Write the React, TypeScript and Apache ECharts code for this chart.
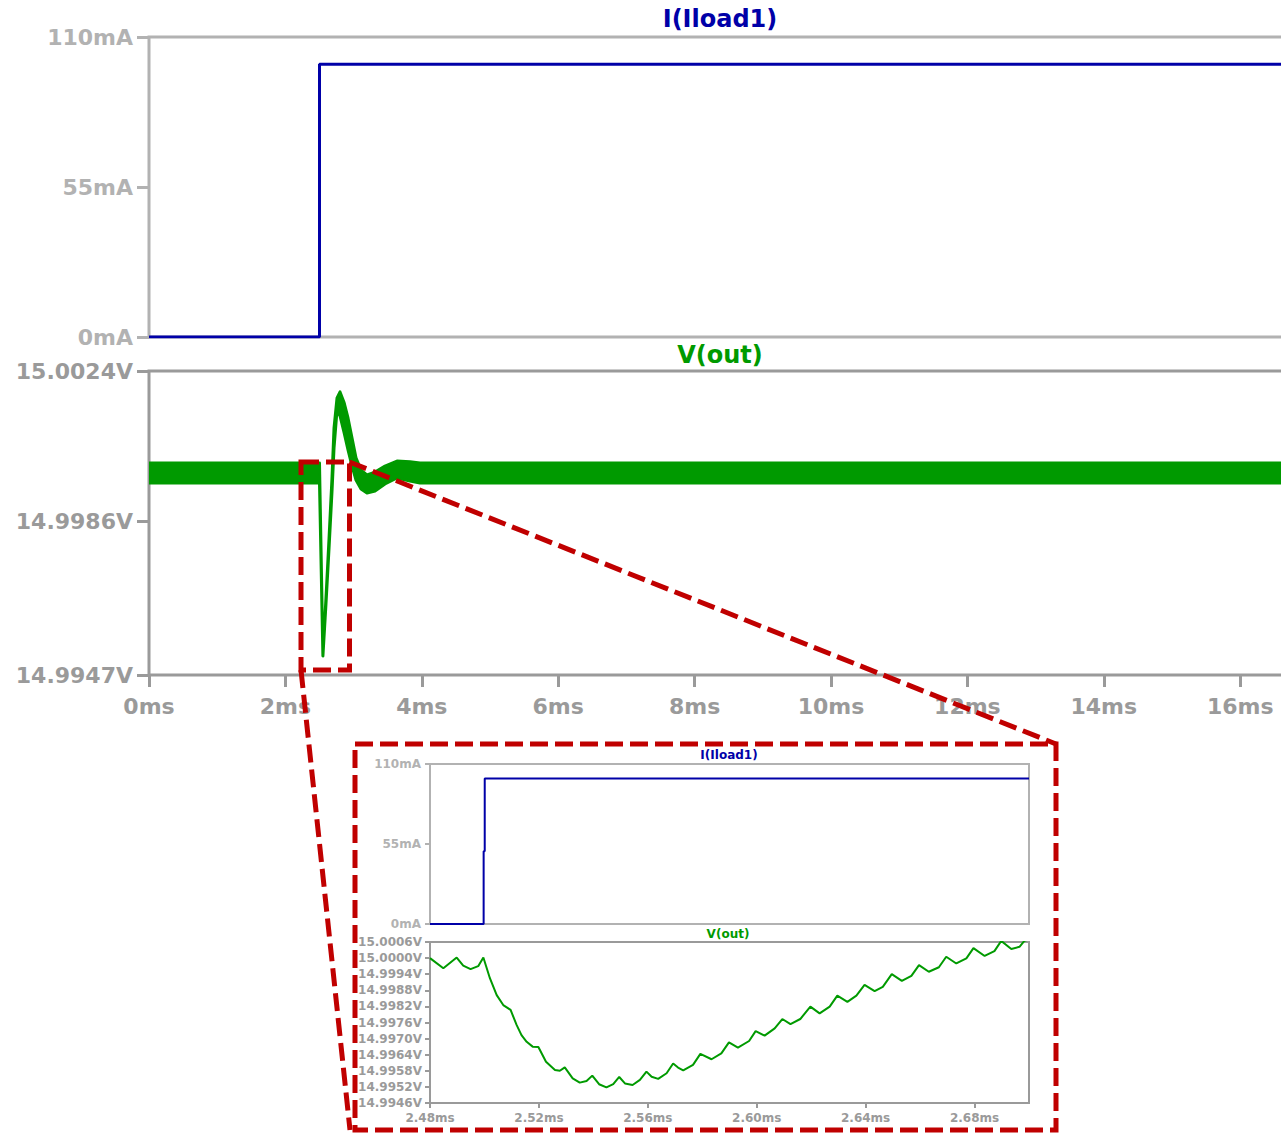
import React, { useEffect, useRef } from "react";
import * as echarts from "echarts";

// ---------- DATA ----------
// Main chart: load current step I(Iload1) [ms, mA]
const mainILoad: [number, number][] = [
  [0, 0],
  [2.5, 0],
  [2.5, 100],
  [17, 100],
];
// Main chart: V(out) ripple envelope [ms, lower V, upper V]
const mainVoutEnvelope: [number, number, number][] = [
  [0.0, 14.99956, 15.00007],
  [2.5, 14.99956, 15.00007],
  [2.55, 14.99518, 14.99523],
  [2.595, 14.9965, 14.99665],
  [2.64, 14.99792, 14.99817],
  [2.683, 14.99934, 14.99969],
  [2.713, 15.00045, 15.00096],
  [2.757, 15.00141, 15.00172],
  [2.801, 15.00126, 15.00187],
  [2.859, 15.00085, 15.00161],
  [2.918, 15.0004, 15.00121],
  [2.977, 14.99999, 15.0007],
  [3.035, 14.99964, 15.0002],
  [3.109, 14.99941, 14.99989],
  [3.196, 14.99931, 14.99977],
  [3.314, 14.99936, 14.99984],
  [3.46, 14.99954, 14.99999],
  [3.636, 14.99969, 15.00012],
  [3.827, 14.99961, 15.0001],
  [3.974, 14.99956, 15.00007],
  [17.0, 14.99956, 15.00007],
];
// Inset: I(Iload1) zoom [ms, mA]
const insetILoad: [number, number][] = [
  [2.48, 0],
  [2.4997, 0],
  [2.4997, 50],
  [2.5001, 50],
  [2.5001, 100],
  [2.7, 100],
];
// Inset: V(out) zoom [ms, V]
const insetVout: [number, number][] = [
  [2.48, 15.0], [2.4849, 14.99962], [2.4898, 15.00002], [2.4922, 14.99972],
  [2.4949, 14.99959], [2.4977, 14.9997], [2.4996, 15.00002], [2.502, 14.99925],
  [2.5045, 14.99862], [2.5069, 14.99825], [2.5096, 14.99807], [2.5118, 14.99751],
  [2.5136, 14.99713], [2.5155, 14.99688], [2.5177, 14.9967], [2.5198, 14.99669],
  [2.5226, 14.99614], [2.5259, 14.99583], [2.5277, 14.9958], [2.5295, 14.99593],
  [2.5324, 14.99552], [2.535, 14.99536], [2.5375, 14.99542], [2.5396, 14.99562],
  [2.5421, 14.9953], [2.5448, 14.99518], [2.5473, 14.9953], [2.5495, 14.99557],
  [2.5516, 14.99533], [2.5544, 14.99527], [2.5571, 14.99546], [2.5595, 14.99577],
  [2.5614, 14.99558], [2.5638, 14.9955], [2.5669, 14.99571], [2.5693, 14.99607],
  [2.5711, 14.99592], [2.573, 14.99582], [2.5766, 14.99602], [2.5793, 14.99643],
  [2.5834, 14.99623], [2.587, 14.99645], [2.5898, 14.99686], [2.5931, 14.99666],
  [2.5972, 14.99691], [2.5996, 14.99728], [2.6029, 14.99711], [2.6066, 14.99738],
  [2.6094, 14.99773], [2.6124, 14.99754], [2.616, 14.99773], [2.6197, 14.99819],
  [2.6231, 14.99794], [2.6268, 14.99819], [2.6296, 14.9986], [2.6333, 14.99837],
  [2.6366, 14.9986], [2.6396, 14.999], [2.6433, 14.99877], [2.6463, 14.99893],
  [2.6496, 14.9994], [2.6533, 14.99915], [2.6568, 14.99934], [2.6596, 14.99974],
  [2.6632, 14.99949], [2.6669, 14.99966], [2.6696, 15.00005], [2.6733, 14.9998],
  [2.677, 14.99999], [2.6796, 15.00037], [2.6837, 15.00008], [2.6873, 15.00026],
  [2.6898, 15.00064], [2.6935, 15.00034], [2.6965, 15.00042], [2.6983, 15.00064],
  [2.7, 15.0007],
];

// Tick values
const mainXTicks = [0, 2, 4, 6, 8, 10, 12, 14, 16];
const currentTicks = [0, 55, 110];
const mainVTicks = [14.9947, 14.9986, 15.0024];
const insetXTicks = [2.48, 2.52, 2.56, 2.6, 2.64, 2.68];
const insetVTicks = [
  14.9946, 14.9952, 14.9958, 14.9964, 14.997, 14.9976, 14.9982, 14.9988, 14.9994, 15.0, 15.0006,
];

// ---------- STYLE ----------
const FONT = "DejaVu Sans";
const BLUE = "#0000a8";
const GREEN = "#009a00";
const RED = "#c00000";
const LIGHT = "#b2b2b2";
const MID = "#9a9a9a";

export default function App() {
  const ref = useRef<HTMLDivElement>(null);

  useEffect(() => {
    if (!ref.current) return;
    const chart = echarts.init(ref.current, null, { renderer: "svg" });

    const mainXMax = 16.745;

    const yAxisBase = (gridIndex: number, color: string, fontSize: number, tickLen: number, margin: number) => ({
      type: "value" as const,
      gridIndex,
      axisLine: { show: false },
      splitLine: { show: false },
      axisTick: { show: true, inside: false, length: tickLen, lineStyle: { color, width: fontSize > 15 ? 3 : 2 } },
      axisLabel: { color, fontFamily: FONT, fontWeight: "bold" as const, fontSize, margin },
    });

    const option: any = {
      animation: false,
      backgroundColor: "#ffffff",
      grid: [
        { left: 149, top: 37, width: 1142, height: 300, show: true, borderColor: LIGHT, borderWidth: 3, backgroundColor: "transparent", outerBoundsMode: "none" },
        { left: 149, top: 371, width: 1142, height: 304, show: true, borderColor: MID, borderWidth: 3, backgroundColor: "transparent", outerBoundsMode: "none" },
        { left: 430, top: 764, width: 599, height: 160, show: true, borderColor: LIGHT, borderWidth: 2, backgroundColor: "transparent", outerBoundsMode: "none" },
        { left: 430, top: 942, width: 599, height: 161, show: true, borderColor: MID, borderWidth: 2, backgroundColor: "transparent", outerBoundsMode: "none" },
      ],
      xAxis: [
        { type: "value", gridIndex: 0, min: 0, max: mainXMax, axisLine: { show: false }, axisTick: { show: false }, axisLabel: { show: false }, splitLine: { show: false } },
        {
          type: "value", gridIndex: 1, min: 0, max: mainXMax,
          axisLine: { show: false }, splitLine: { show: false },
          axisTick: { show: true, length: 12, lineStyle: { color: MID, width: 3 }, customValues: mainXTicks },
          axisLabel: { color: MID, fontFamily: FONT, fontWeight: "bold", fontSize: 22, margin: 20, customValues: mainXTicks, formatter: (v: number) => `${v}ms` },
        },
        { type: "value", gridIndex: 2, min: 2.48, max: 2.7, axisLine: { show: false }, axisTick: { show: false }, axisLabel: { show: false }, splitLine: { show: false } },
        {
          type: "value", gridIndex: 3, min: 2.48, max: 2.7,
          axisLine: { show: false }, splitLine: { show: false },
          axisTick: { show: true, length: 5, lineStyle: { color: MID, width: 2 }, customValues: insetXTicks },
          axisLabel: { color: MID, fontFamily: FONT, fontWeight: "bold", fontSize: 12, margin: 9, customValues: insetXTicks, formatter: (v: number) => `${v.toFixed(2)}ms` },
        },
      ],
      yAxis: [
        (() => {
          const a: any = yAxisBase(0, LIGHT, 22, 12, 16);
          a.min = 0; a.max = 110;
          a.axisTick.customValues = currentTicks;
          a.axisLabel.customValues = currentTicks;
          a.axisLabel.formatter = (v: number) => `${v}mA`;
          return a;
        })(),
        (() => {
          const a: any = yAxisBase(1, MID, 22, 12, 16);
          a.min = 14.9947; a.max = 15.0024;
          a.axisTick.customValues = mainVTicks;
          a.axisLabel.customValues = mainVTicks;
          a.axisLabel.formatter = (v: number) => `${v.toFixed(4)}V`;
          return a;
        })(),
        (() => {
          const a: any = yAxisBase(2, LIGHT, 12, 5, 9);
          a.min = 0; a.max = 110;
          a.axisTick.customValues = currentTicks;
          a.axisLabel.customValues = currentTicks;
          a.axisLabel.formatter = (v: number) => `${v}mA`;
          return a;
        })(),
        (() => {
          const a: any = yAxisBase(3, MID, 12, 5, 8);
          a.min = 14.9946; a.max = 15.0006;
          a.axisTick.customValues = insetVTicks;
          a.axisLabel.customValues = insetVTicks;
          a.axisLabel.formatter = (v: number) => `${v.toFixed(4)}V`;
          return a;
        })(),
      ],
      series: [
        {
          type: "line", xAxisIndex: 0, yAxisIndex: 0, data: mainILoad, showSymbol: false, clip: true,
          lineStyle: { color: BLUE, width: 3 }, z: 5,
        },
        {
          type: "custom", xAxisIndex: 1, yAxisIndex: 1, clip: true, z: 5,
          data: mainVoutEnvelope,
          encode: { x: 0, y: [1, 2] },
          renderItem: (params: any, api: any) => {
            if (params.dataIndex !== 0) return null;
            const pts: number[][] = [];
            for (let i = 0; i < mainVoutEnvelope.length; i++) {
              pts.push(api.coord([mainVoutEnvelope[i][0], mainVoutEnvelope[i][2]]));
            }
            for (let i = mainVoutEnvelope.length - 1; i >= 0; i--) {
              pts.push(api.coord([mainVoutEnvelope[i][0], mainVoutEnvelope[i][1]]));
            }
            return {
              type: "polygon",
              shape: { points: pts },
              style: { fill: GREEN, stroke: GREEN, lineWidth: 3, lineJoin: "round" },
            };
          },
        },
        {
          type: "line", xAxisIndex: 2, yAxisIndex: 2, data: insetILoad, showSymbol: false, clip: true,
          lineStyle: { color: BLUE, width: 2 }, z: 5,
        },
        {
          type: "line", xAxisIndex: 3, yAxisIndex: 3, data: insetVout, showSymbol: false, clip: true,
          lineStyle: { color: GREEN, width: 2 }, z: 5,
        },
      ],
      graphic: [
        { type: "text", x: 720, y: 19, z: 20, style: { text: "I(Iload1)", fill: BLUE, font: `bold 24px "${FONT}"`, textAlign: "center", textVerticalAlign: "middle" } },
        { type: "text", x: 720, y: 355, z: 20, style: { text: "V(out)", fill: GREEN, font: `bold 24px "${FONT}"`, textAlign: "center", textVerticalAlign: "middle" } },
        { type: "text", x: 729, y: 755, z: 20, style: { text: "I(Iload1)", fill: BLUE, font: `bold 12px "${FONT}"`, textAlign: "center", textVerticalAlign: "middle" } },
        { type: "text", x: 728, y: 934, z: 20, style: { text: "V(out)", fill: GREEN, font: `bold 12px "${FONT}"`, textAlign: "center", textVerticalAlign: "middle" } },
        { type: "rect", z: 30, shape: { x: 301, y: 462, width: 48.5, height: 208 }, style: { fill: "none", stroke: RED, lineWidth: 5, lineDash: [18, 7] } },
        { type: "rect", z: 30, shape: { x: 355, y: 744, width: 701, height: 386 }, style: { fill: "none", stroke: RED, lineWidth: 5, lineDash: [18, 7] } },
        { type: "line", z: 30, shape: { x1: 349.5, y1: 462, x2: 1056, y2: 744 }, style: { stroke: RED, lineWidth: 5, lineDash: [18, 7] } },
        { type: "line", z: 30, shape: { x1: 301, y1: 670, x2: 350, y2: 1130 }, style: { stroke: RED, lineWidth: 5, lineDash: [18, 7] } },
      ],
    };

    chart.setOption(option);
    return () => chart.dispose();
  }, []);

  return (
    <div style={{ position: "absolute", left: 0, top: 0, width: 1281, height: 1133, overflow: "hidden", background: "#fff" }}>
      <div ref={ref} style={{ width: 1310, height: 1133 }} />
    </div>
  );
}
